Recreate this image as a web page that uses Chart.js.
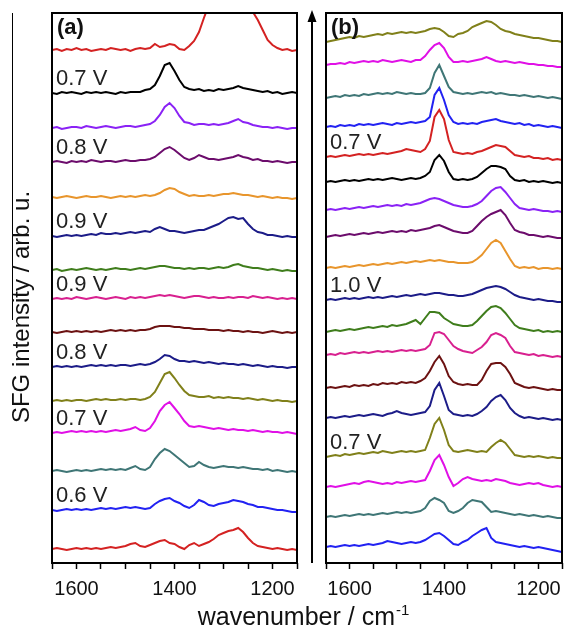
<!DOCTYPE html>
<html>
<head>
<meta charset="utf-8">
<script src="https://cdn.jsdelivr.net/npm/chart.js@4.4.1/dist/chart.umd.min.js"></script>
<style>
  html, body { margin: 0; padding: 0; background: #fff; }
  #wrap { position: relative; width: 570px; height: 631px; overflow: hidden; }
  #panelA { position: absolute; left: 0; top: 0; }
  #panelB { position: absolute; left: 305px; top: 0; }
</style>
</head>
<body>
<div id="wrap">
  <canvas id="panelA" width="570" height="631"></canvas>
  <canvas id="panelB" width="265" height="631"></canvas>
</div>
<script>
// Wavenumber grid (cm^-1) shared by every spectrum
const wavenumbers = [1650,1640,1630,1620,1610,1600,1590,1580,1570,1560,1550,1540,1530,1520,1510,1500,1490,1480,1470,1460,1450,1440,1430,1420,1410,1400,1390,1380,1370,1360,1350,1340,1330,1320,1310,1300,1290,1280,1270,1260,1250,1240,1230,1220,1210,1200,1190,1180,1170,1160,1150];
const tickLabelValues = [1600, 1400, 1200];

// Panel (a): SFG intensity of each spectrum, top to bottom (arb. u.)
const spectraA = [
  [0,1,-1,1,0,2,0,1,-1,0, 1,0,2,1,0,1,-1,1,2,1, 2,6,3,4,6,5,1,0,4,9, 18,32,45,80,120,150,160,150,120,85, 55,38,30,20,10,5,2,0,1,-1,0],
  [0,-1,1,0,1,0,-1,1,0,1, 0,1,0,-1,1,0,1,1,1,3, 4,8,17,28,30,22,13,6,4,3, 4,2,3,2,4,3,4,5,7,5, 4,3,2,1,2,0,1,-1,0,1,0],
  [0,1,-1,0,1,1,0,2,1,0, 1,2,1,0,1,2,2,1,2,3, 4,7,13,21,25,20,12,6,5,3, 4,4,3,4,3,4,5,7,9,6, 5,3,2,1,1,0,1,0,-1,0,0],
  [0,1,0,-1,1,0,1,0,2,1, 0,1,1,0,1,2,1,1,2,2, 3,5,9,13,15,12,8,4,2,4, 7,5,3,3,2,3,4,5,7,5, 4,2,3,1,1,0,1,0,-1,0,0],
  [1,0,1,2,1,0,1,2,1,1, 2,1,0,1,2,1,2,1,2,3, 2,3,5,8,10,9,6,4,2,3, 2,2,3,2,3,4,4,5,4,3, 3,2,1,2,1,0,1,0,0,-1,0],
  [0,-1,0,1,0,1,0,1,2,1, 3,2,2,3,2,3,4,3,4,5, 4,7,9,7,5,5,4,3,4,5, 6,6,8,10,12,15,18,19,17,18, 12,7,4,3,1,1,0,-1,0,-1,-1],
  [0,1,-1,0,1,0,1,2,1,0, 1,0,1,2,1,1,0,1,2,1, 2,3,4,4,3,2,2,1,2,1, 2,2,1,2,3,2,3,5,6,4, 3,2,2,1,0,1,0,-1,0,-1,-1],
  [0,1,0,1,0,2,1,0,1,2, 1,0,1,2,1,0,2,1,2,1, 2,3,4,3,4,3,2,1,2,3, 3,2,1,2,1,1,2,1,2,2, 1,3,2,1,2,1,0,1,0,1,0],
  [0,-1,0,1,0,1,0,1,0,1, 0,1,2,1,2,1,2,1,2,2, 3,5,6,6,6,5,5,4,4,3, 3,3,2,2,2,1,2,1,1,0, 1,0,0,-1,0,1,0,-1,0,-1,0],
  [0,1,0,1,0,1,0,1,2,1, 2,1,2,1,2,2,1,2,3,2, 3,5,8,12,11,8,6,6,5,6, 5,4,5,4,3,4,3,3,2,3, 2,1,2,1,0,1,0,0,-1,0,0],
  [0,1,0,1,0,1,1,0,1,2, 1,2,1,1,2,1,2,2,1,2, 4,9,18,27,29,23,16,10,6,5, 4,4,5,3,4,3,4,3,3,2, 3,2,1,2,1,0,1,0,0,-1,0],
  [0,1,0,1,2,1,2,1,2,1, 2,1,2,3,2,3,4,6,3,2, 5,12,22,28,31,25,19,12,7,6, 7,6,5,4,5,4,3,4,3,3, 2,3,2,1,2,1,1,0,1,0,-1],
  [0,1,0,-1,0,1,0,1,0,1, 2,1,2,1,2,1,3,5,2,1, 4,12,18,22,20,16,12,8,4,5, 9,6,4,3,4,5,4,4,3,4, 3,2,2,1,2,0,1,0,-1,0,-1],
  [0,-1,0,1,0,1,0,1,0,1, 2,1,2,1,2,3,2,3,2,1, 2,6,9,11,12,9,7,4,2,5, 10,8,5,4,6,7,8,10,9,8, 6,5,3,3,2,1,0,0,-1,-2,-2],
  [0,1,0,-1,0,1,0,1,0,1, 0,1,2,1,2,3,5,6,3,2, 4,6,8,9,6,5,2,0,4,6, 3,5,7,10,14,16,18,19,21,17, 11,6,3,2,1,0,1,0,-1,0,-1]
];
// Vertical stacking offset of each spectrum in panel (a)
const offsetsA = [513,470,435,401,365,327,293,264,231,196,162,130,92,53,14];
// Electrode potential written above a spectrum
const potentialsA = ['', '0.7 V', '', '0.8 V', '', '0.9 V', '', '0.9 V', '', '0.8 V', '', '0.7 V', '', '0.6 V', ''];

// Panel (b): SFG intensity of each spectrum, top to bottom (arb. u.)
const spectraB = [
  [0,1,2,3,4,5,4,6,5,6, 7,8,7,9,8,9,10,9,10,9, 10,11,13,14,13,10,6,5,8,9, 11,15,17,19,21,20,17,13,11,10, 8,7,6,5,4,4,3,2,1,1,0],
  [0,1,1,2,1,3,2,3,4,3, 4,3,5,4,3,4,5,4,3,5, 5,9,15,20,22,17,8,3,3,4, 3,4,5,6,8,6,4,3,4,3, 2,3,2,1,1,0,0,-1,-1,-2,-2],
  [0,1,2,1,3,2,3,2,4,3, 4,5,4,5,4,6,5,4,5,4, 4,5,10,25,33,22,11,6,5,4, 5,4,5,6,5,6,4,5,4,3, 3,2,3,2,1,2,1,0,1,0,-1],
  [0,1,0,2,1,2,1,3,2,3, 2,3,4,3,2,4,3,4,5,4, 5,6,10,32,39,27,12,5,3,4, 3,4,3,5,6,7,8,6,5,4, 3,4,2,3,1,2,1,0,1,0,-1],
  [0,1,0,1,2,1,2,3,2,3, 2,3,4,3,4,5,6,8,7,6, 5,8,16,40,47,38,17,5,4,3, 4,3,5,6,8,10,12,11,10,6, 2,1,0,1,-1,-1,-2,-1,-3,-2,-3],
  [0,1,0,1,2,1,2,1,2,3, 2,3,2,3,4,3,2,3,4,3, 4,6,10,22,27,21,10,3,2,3, 2,3,5,9,13,16,16,15,13,6, 2,1,2,0,1,0,1,0,-1,0,-1],
  [0,1,0,1,2,1,2,3,2,3, 4,3,4,5,4,5,4,6,5,6, 7,9,11,12,11,9,7,5,4,3, 3,4,6,9,14,19,22,23,18,12, 6,2,1,0,1,0,-1,-1,-2,-1,-2],
  [0,1,2,1,2,3,2,3,4,3, 4,5,4,5,6,5,6,5,7,6, 7,8,9,11,12,10,8,6,5,4, 4,6,11,16,20,23,25,27,22,14, 7,5,4,2,2,1,0,1,0,-1,-1],
  [0,1,0,1,2,1,2,3,2,3, 4,3,4,5,4,5,6,5,6,7, 6,7,8,7,8,7,6,6,5,5, 5,6,9,13,19,25,28,25,17,9, 2,0,1,0,1,-1,0,0,-1,0,-1],
  [0,1,0,1,2,1,2,1,2,3, 2,3,2,3,4,3,4,5,4,5, 6,5,6,7,7,6,5,5,4,4, 5,6,8,10,12,13,14,13,11,8, 5,3,2,1,0,1,0,-1,-1,-2,-2],
  [0,1,2,1,2,3,2,3,4,5, 4,5,6,5,7,6,7,8,10,12, 8,14,20,20,19,14,11,8,7,6, 6,7,11,16,21,25,26,24,19,13, 7,4,3,2,1,2,0,1,0,1,0],
  [0,1,0,2,1,2,3,2,3,2, 3,4,3,4,3,4,5,4,5,4, 5,6,10,22,23,21,15,9,6,4, 3,2,5,8,13,20,22,20,17,9, 3,2,1,0,1,-1,0,-1,-2,-1,-2],
  [0,1,0,1,2,1,3,2,3,2, 4,3,5,4,5,4,6,5,6,5, 7,10,17,26,32,24,12,6,4,3, 4,3,3,8,17,24,25,25,21,14, 5,3,1,0,1,0,-1,-2,-1,-2,-2],
  [0,1,0,1,2,1,2,3,2,3, 4,3,2,4,5,7,5,4,3,4, 5,6,12,28,35,22,8,4,3,2, 3,2,4,7,11,17,21,23,18,10, 5,2,0,1,0,-1,0,-1,-2,-1,-2],
  [0,1,2,1,3,2,3,4,3,4, 5,4,6,5,4,5,6,5,6,5, 6,7,19,33,39,27,12,6,5,6, 7,6,5,6,5,10,14,17,14,8, 2,1,0,1,0,1,0,-1,0,-1,-1],
  [0,1,0,1,2,3,4,3,5,6, 5,4,3,4,3,5,4,5,6,5, 6,7,16,27,32,22,10,1,4,8, 10,8,7,6,7,6,8,7,6,4, 3,2,3,4,3,4,2,1,0,1,0],
  [0,1,0,1,2,1,2,3,2,3, 2,3,4,3,4,5,4,5,4,5, 6,9,16,19,17,14,6,4,6,9, 14,17,16,15,10,5,6,5,4,3, 2,3,2,1,2,1,0,1,0,-1,-1],
  [0,1,0,1,2,1,2,1,2,3, 2,3,4,6,5,4,3,4,5,4, 5,7,10,13,14,11,7,3,2,5, 7,11,14,17,19,9,5,4,3,2, 1,0,1,0,-1,0,-1,-2,-3,-4,-5]
];
// Vertical stacking offset of each spectrum in panel (b)
const offsetsB = [521,498,465,436,406,381,353,326,295,263,231,208,175,145,106,76,46,16];
const potentialsB = ['', '', '', '', '0.7 V', '', '', '', '', '1.0 V', '', '', '', '', '0.7 V', '', '', ''];

// Trace colours
const coloursA = ['#d42222','#000000','#8a22f5','#6c0c6c','#e8952c','#1c1c88','#3f7d1c','#d8208f',
                  '#6c1212','#1c1c88','#80801a','#e010e6','#3f7676','#2222f2','#d42222'];
const coloursB = ['#80801a','#e010e6','#3f7676','#2222f2','#d42222','#000000','#8a22f5','#6c0c6c','#e8952c',
                  '#1c1c88','#3f7d1c','#d8208f','#6c1212','#1c1c88','#80801a','#e010e6','#3f7676','#2222f2'];

const FONT = '"Liberation Sans", Arial, sans-serif';

function buildDatasets(spectra, offsets, colours) {
  return spectra.map((vals, i) => ({
    data: vals.map((v, j) => ({ x: wavenumbers[j], y: offsets[i] + v })),
    borderColor: colours[i],
    borderWidth: 2,
    pointRadius: 0,
    tension: 0,
    fill: false
  }));
}

function xScale() {
  return {
    type: 'linear', reverse: true, min: 1150, max: 1650,
    ticks: {
      stepSize: 50, autoSkip: false, maxRotation: 0, padding: 8, color: '#111',
      font: { family: FONT, size: 20 },
      callback: v => (tickLabelValues.includes(v) ? String(v) : '')
    },
    grid: { drawOnChartArea: false, drawTicks: true, tickLength: 6, tickWidth: 1.5, tickColor: '#000' },
    border: { display: false },
    afterFit(s) { s.height = 68; }
  };
}

// Frame, panel letter and potential labels
const panelDecor = {
  id: 'panelDecor',
  afterDatasetsDraw(chart, args, opts) {
    const { ctx, chartArea: a } = chart;
    const ys = chart.scales.y;
    ctx.save();
    ctx.strokeStyle = '#000';
    ctx.lineWidth = 2;
    ctx.strokeRect(a.left, a.top, a.right - a.left, a.bottom - a.top);
    ctx.fillStyle = '#111';
    ctx.textBaseline = 'alphabetic';
    ctx.textAlign = 'left';
    ctx.font = 'bold 22px ' + FONT;
    ctx.fillText(opts.letter, a.left + 5, a.top + 21);
    ctx.font = '22px ' + FONT;
    ctx.fillStyle = '#222';
    opts.labels.forEach((t, i) => {
      if (t) ctx.fillText(t, a.left + 4, ys.getPixelForValue(opts.offsets[i]) - 8);
    });
    ctx.restore();
  }
};

// Sweep arrow, left rule and the shared axis titles
const sharedDecor = {
  id: 'sharedDecor',
  afterDraw(chart) {
    const { ctx, chartArea: a } = chart;
    ctx.save();
    ctx.strokeStyle = '#000';
    ctx.fillStyle = '#000';
    ctx.lineWidth = 2;
    const ax = 312;
    ctx.beginPath();
    ctx.moveTo(ax, a.bottom);
    ctx.lineTo(ax, a.top + 6);
    ctx.stroke();
    ctx.beginPath();
    ctx.moveTo(ax, a.top - 3);
    ctx.lineTo(ax - 4.5, a.top + 9);
    ctx.lineTo(ax + 4.5, a.top + 9);
    ctx.closePath();
    ctx.fill();

    ctx.lineWidth = 1;
    ctx.beginPath();
    ctx.moveTo(12.5, a.top);
    ctx.lineTo(12.5, 320);
    ctx.stroke();

    // y title
    ctx.fillStyle = '#111';
    ctx.save();
    ctx.translate(22, 307);
    ctx.rotate(-Math.PI / 2);
    ctx.textAlign = 'center';
    ctx.textBaseline = 'middle';
    ctx.font = '24px ' + FONT;
    ctx.fillText('SFG intensity / arb. u.', 0, 0);
    ctx.restore();

    // x title
    const main = 'wavenumber / cm', sup = '-1';
    ctx.textBaseline = 'alphabetic';
    ctx.textAlign = 'left';
    ctx.font = '25px ' + FONT;
    const w1 = ctx.measureText(main).width;
    ctx.font = '15px ' + FONT;
    const w2 = ctx.measureText(sup).width;
    const x0 = 303.5 - (w1 + w2 + 1) / 2;
    ctx.font = '25px ' + FONT;
    ctx.fillText(main, x0, 625);
    ctx.font = '15px ' + FONT;
    ctx.fillText(sup, x0 + w1 + 1, 615);
    ctx.restore();
  }
};

const common = {
  responsive: false,
  animation: false,
  devicePixelRatio: 1,
  plugins: { legend: { display: false }, tooltip: { enabled: false } }
};

new Chart(document.getElementById('panelA'), {
  type: 'line',
  data: { datasets: buildDatasets(spectraA, offsetsA, coloursA) },
  options: {
    ...common,
    layout: { padding: { left: 52, right: 273, top: 13, bottom: 0 } },
    plugins: { ...common.plugins, panelDecor: { letter: '(a)', labels: potentialsA, offsets: offsetsA } },
    scales: {
      x: xScale(),
      y: { display: false, min: 0, max: 550 }
    }
  },
  plugins: [panelDecor, sharedDecor]
});

new Chart(document.getElementById('panelB'), {
  type: 'line',
  data: { datasets: buildDatasets(spectraB, offsetsB, coloursB) },
  options: {
    ...common,
    layout: { padding: { left: 21, right: 2, top: 13, bottom: 0 } },
    plugins: { ...common.plugins, panelDecor: { letter: '(b)', labels: potentialsB, offsets: offsetsB } },
    scales: {
      x: xScale(),
      y: { display: false, min: 0, max: 550 }
    }
  },
  plugins: [panelDecor]
});
</script>
</body>
</html>
